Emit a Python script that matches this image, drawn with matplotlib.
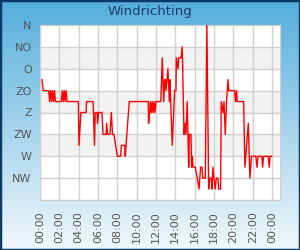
import matplotlib
matplotlib.use("Agg")
import matplotlib.pyplot as plt
import numpy as np
from matplotlib.colors import LinearSegmentedColormap
from matplotlib.patches import Rectangle

# tijd (HH:MM) en windrichting in graden
times = ["00:12", "00:20", "00:54", "01:00", "01:06", "01:12", "01:18", "01:24", "01:30", "01:36",
         "02:12", "02:18", "02:24", "02:30", "02:36", "02:42", "02:48", "03:58", "04:02", "04:14",
         "04:46", "04:49", "05:29", "05:32", "05:38", "05:43", "05:54", "05:57", "06:04", "06:25",
         "06:31", "06:50", "06:54", "06:59", "07:14", "07:23", "07:30", "07:39", "08:00", "08:21",
         "08:25", "08:46", "08:49", "09:14", "11:12", "11:14", "11:21", "11:25", "11:31", "11:36",
         "11:42", "11:48", "11:54", "12:00", "12:30", "12:39", "12:48", "12:54", "12:59", "13:02",
         "13:14", "13:23", "13:27", "13:31", "13:41", "13:56", "14:04", "14:06", "14:17", "14:21",
         "14:35", "14:43", "14:54", "15:00", "15:06", "15:14", "15:23", "15:27", "15:37", "15:41",
         "15:46", "15:50", "16:04", "16:16", "16:27", "16:37", "16:46", "16:50", "17:06", "17:16",
         "17:27", "17:33", "17:43", "17:47", "17:54", "18:00", "18:08", "18:14", "18:25", "18:29",
         "18:41", "18:45", "18:56", "19:02", "19:10", "19:18", "19:27", "19:32", "20:08", "20:14",
         "20:20", "20:24", "21:04", "21:12", "21:33", "21:43", "21:53", "22:20", "22:27", "22:33",
         "22:57", "23:02", "23:08", "23:37", "23:43", "23:48", "23:58"]
richting = [112.5, 135, 135, 157.5, 135, 157.5, 135, 157.5, 135, 157.5,
            157.5, 135, 157.5, 135, 157.5, 135, 157.5, 157.5, 247.5, 180,
            180, 157.5, 157.5, 180, 247.5, 180, 180, 202.5, 180, 180,
            225, 225, 202.5, 225, 225, 180, 225, 225, 270, 270,
            247.5, 247.5, 270, 157.5, 157.5, 202.5, 180, 157.5, 180, 157.5,
            180, 157.5, 180, 157.5, 157.5, 67.5, 157.5, 112.5, 112.5, 135,
            90, 157.5, 112.5, 157.5, 247.5, 135, 135, 67.5, 90, 67.5,
            67.5, 45, 225, 202.5, 225, 157.5, 292.5, 225, 225, 292.5,
            270, 292.5, 292.5, 315, 337.5, 292.5, 292.5, 315, 315, 0,
            337.5, 315, 315, 337.5, 292.5, 315, 337.5, 315, 315, 337.5,
            337.5, 157.5, 180, 157.5, 225, 157.5, 112.5, 135, 135, 157.5,
            135, 157.5, 157.5, 292.5, 202.5, 315, 270, 270, 292.5, 270,
            270, 292.5, 270, 270, 292.5, 270, 270]

dir_labels = ["N", "NO", "O", "ZO", "Z", "ZW", "W", "NW"]
dir_ticks = [0, 45, 90, 135, 180, 225, 270, 315]
hour_ticks = list(range(0, 25, 2))
hour_labels = ["%02d:00" % (h % 24) for h in hour_ticks]

uren = [int(t[:2]) + int(t[3:]) / 60 for t in times]

fig = plt.figure(figsize=(3, 2.5), dpi=100)

# achtergrond met verloop (donker boven, licht onder)
bg = fig.add_axes([0, 0, 1, 1], zorder=-10)
cmap = LinearSegmentedColormap.from_list("bg", ["#54aedc", "#f2f8fc"])
bg.imshow(np.linspace(0, 1, 256).reshape(-1, 1), cmap=cmap, aspect="auto",
          extent=[0, 1, 0, 1], origin="upper")
bg.set_xlim(0, 1)
bg.set_ylim(0, 1)
bg.axis("off")
fig.patches.append(Rectangle((0, 0), 1, 1, transform=fig.transFigure, fill=False,
                             edgecolor="#0c3a66", linewidth=2.5, zorder=5))

ax = fig.add_axes([40 / 300, 0.2, 240 / 300, 0.7])
ax.set_facecolor("white")
for lo in [45, 135, 225]:
    ax.axhspan(lo, lo + 45, color="#f2f2f2", zorder=0, lw=0)

ax.plot(uren, richting, color="#ff0000", lw=1.0, zorder=3)

ax.set_xlim(0, 24.83)
ax.set_ylim(360, 0)
ax.set_yticks(dir_ticks + [360])
ax.set_yticklabels(dir_labels + [""])
ax.set_xticks(hour_ticks)
ax.set_xticklabels(hour_labels, rotation=90)
ax.grid(True, color="#d0d0d0", lw=1.0, zorder=1)
ax.set_axisbelow(True)
ax.tick_params(length=0, labelsize=8, labelcolor="#555555")
ax.tick_params(axis="y", pad=6)
ax.tick_params(axis="x", pad=8)
for s in ax.spines.values():
    s.set_color("#d0d0d0")

fig.text(0.5, 0.955, "Windrichting", ha="center", va="center", fontsize=9.5,
         color="#1c3d66")

fig.savefig("out.png", dpi=100)
